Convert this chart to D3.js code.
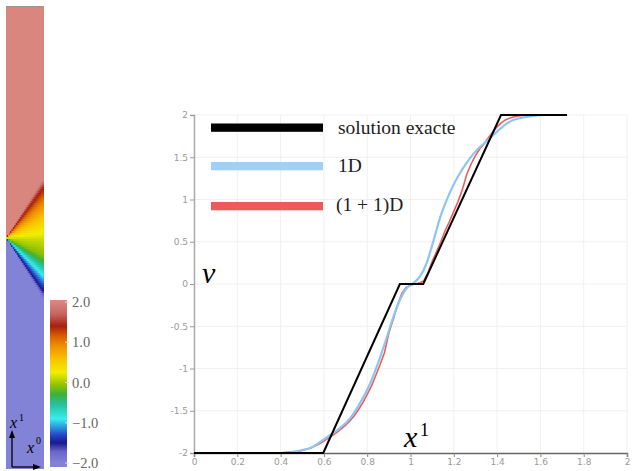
<!DOCTYPE html>
<html><head><meta charset="utf-8">
<script src="https://cdn.jsdelivr.net/npm/d3@7"></script>
<style>body{margin:0;background:#fff}svg{display:block}</style>
</head><body>
<svg id="c" width="632" height="471"></svg>
<script>
// ---------- data ----------
const xTickValues = [0,0.2,0.4,0.6,0.8,1,1.2,1.4,1.6,1.8,2];
const xTickLabels = ["0","0.2","0.4","0.6","0.8","1","1.2","1.4","1.6","1.8","2"];
const yTickValues = [2,1.5,1,0.5,0,-0.5,-1,-1.5,-2];
const yTickLabels = ["2","1.5","1","0.5","0","-0.5","-1","-1.5","-2"];

const exactX = [0, 0.597, 0.951, 1.059, 1.418, 1.723];
const exactV = [-2, -2, 0, 0, 2, 2];

const blueX = [0.40,0.45,0.50,0.55,0.582,0.628,0.674,0.721,0.767,0.813,0.851,0.887,0.921,0.951,0.982,1.013,1.044,1.075,1.098,1.118,1.136,1.165,1.198,1.235,1.275,1.312,1.352,1.398,1.44,1.475,1.52,1.566,1.62,1.723];
const blueV = [-2.00,-1.99,-1.965,-1.925,-1.87,-1.79,-1.705,-1.59,-1.41,-1.18,-0.93,-0.66,-0.39,-0.19,-0.05,0.01,0.09,0.25,0.44,0.62,0.78,0.98,1.17,1.34,1.49,1.60,1.69,1.80,1.89,1.94,1.97,1.99,2.00,2.00];

const redX = [0.40,0.42,0.44,0.46,0.48,0.50,0.52,0.54,0.56,0.58,0.60,0.62,0.64,0.66,0.68,0.70,0.72,0.74,0.76,0.78,0.80,0.82,0.84,0.86,0.88,0.90,0.92,0.94,0.96,0.98,1.00,1.02,1.04,1.06,1.08,1.10,1.12,1.14,1.16,1.18,1.20,1.22,1.24,1.26,1.28,1.30,1.32,1.34,1.36,1.38,1.40,1.42,1.44,1.46,1.48,1.50,1.54,1.723];
const redV = [-2.00,-1.995,-1.99,-1.985,-1.98,-1.97,-1.955,-1.94,-1.915,-1.89,-1.86,-1.825,-1.79,-1.755,-1.715,-1.67,-1.62,-1.56,-1.485,-1.405,-1.305,-1.205,-1.08,-0.95,-0.81,-0.58,-0.42,-0.25,-0.11,-0.04,-0.015,0.00,0.01,0.035,0.13,0.265,0.38,0.50,0.63,0.74,0.86,0.98,1.12,1.30,1.42,1.52,1.60,1.66,1.73,1.80,1.86,1.91,1.945,1.965,1.98,1.99,2.00,2.00];

const legendLabels = ["solution exacte","1D","(1 + 1)D"];

// pseudocolor field: profile at the last x0 column (offset of x1 from 1 -> value)
const heatOffset = [-0.264,-0.23,-0.173,-0.121,-0.078,-0.013,0.074,0.16,0.225,0.255];
const heatValue  = [-2,-1.5,-1.0,-0.5,-0.1,0.1,0.5,1.0,1.5,2];

const colorStopV = [-2.0,-1.72,-1.5,-1.3,-0.9,-0.55,-0.3,-0.05,0.25,0.6,0.9,1.15,1.4,1.7,2.0];
const colorStopC = ["#8282d6","#6a68c8","#1a1890","#2448c8","#38eef0","#28c0a0","#3cb03c","#94c400","#f2ee00","#f8c000","#f09000","#d86000","#a82010","#c46660","#d9867f"];

const cbTickValues = [2,1,0,-1,-2];
const cbTickLabels = ["2.0","1.0","0.0","\u22121.0","\u22122.0"];

// ---------- drawing ----------
const svg = d3.select("#c");
const color = d3.scaleLinear().domain(colorStopV).range(colorStopC).clamp(true);

// heatmap
const hx = d3.scaleLinear().domain([0,1]).range([6,43]);
const hy = d3.scaleLinear().domain([0,2]).range([468,6]);
const prof = d3.scaleLinear().domain(heatOffset).range(heatValue).clamp(true);
const nx = 37, ny = 231;
const cells = [];
for (let i=0;i<nx;i++){
  const x0 = (i+0.5)/nx;
  for (let j=0;j<ny;j++){
    const x1 = (j+0.5)/ny*2;
    cells.push({i,j,v:prof((x1-1)/x0)});
  }
}
svg.append("g").attr("shape-rendering","crispEdges").selectAll("rect").data(cells).join("rect")
  .attr("x",d=>hx(d.i/nx)).attr("width",hx(1/nx)-hx(0)+0.6)
  .attr("y",d=>hy((d.j+1)/ny*2)).attr("height",hy(0)-hy(2/ny)+0.6)
  .attr("fill",d=>color(d.v));
svg.append("line").attr("x1",6).attr("x2",43).attr("y1",6.5).attr("y2",6.5).attr("stroke","#a09090").attr("stroke-width",1);

// triad
const tri = svg.append("g").attr("stroke","#000").attr("stroke-width",1.3).attr("fill","none");
tri.append("line").attr("x1",12).attr("y1",467).attr("x2",12).attr("y2",434);
tri.append("line").attr("x1",12).attr("y1",467).attr("x2",37).attr("y2",467);
svg.append("path").attr("d","M12,430 L9,438 L15,438 Z").attr("fill","#000");
svg.append("path").attr("d","M41,467 L33,464 L33,470 Z").attr("fill","#000");
const triT = svg.append("g").attr("font-family","Liberation Serif").attr("font-style","italic").attr("fill","#000");
triT.append("text").attr("x",10).attr("y",428).attr("font-size",16).text("x");
triT.append("text").attr("x",19).attr("y",421).attr("font-size",10).attr("font-style","normal").text("1");
triT.append("text").attr("x",27).attr("y",453).attr("font-size",16).text("x");
triT.append("text").attr("x",36).attr("y",444).attr("font-size",10).attr("font-style","normal").text("0");

// colorbar
const cb = d3.scaleLinear().domain([-2,2]).range([463,302]);
const cbRows = d3.range(300,467);
svg.append("g").attr("shape-rendering","crispEdges").selectAll("rect").data(cbRows).join("rect")
  .attr("x",50).attr("width",17).attr("y",d=>d).attr("height",1.2)
  .attr("fill",d=>color(cb.invert(d+0.5)));
const cbg = svg.append("g");
cbg.selectAll("line").data(cbTickValues).join("line")
  .attr("x1",65).attr("x2",69).attr("y1",d=>cb(d)).attr("y2",d=>cb(d)).attr("stroke","#ddd");
cbg.selectAll("text").data(cbTickValues).join("text")
  .attr("x",72).attr("y",d=>cb(d)).attr("dy","0.35em")
  .attr("font-family","Liberation Serif").attr("font-size",14.5).attr("fill","#666")
  .text((d,i)=>cbTickLabels[i]);

// line plot
const x = d3.scaleLinear().domain([0,2]).range([194,627]);
const y = d3.scaleLinear().domain([-2,2]).range([453,115]);

const grid = svg.append("g").attr("stroke","#f0f0f0").attr("stroke-width",1);
grid.selectAll(".gx").data(xTickValues.slice(1)).join("line").attr("class","gx")
  .attr("x1",d=>x(d)).attr("x2",d=>x(d)).attr("y1",y(-2)).attr("y2",y(2));
grid.selectAll(".gy").data(yTickValues.slice(0,-1)).join("line").attr("class","gy")
  .attr("x1",x(0)).attr("x2",x(2)).attr("y1",d=>y(d)).attr("y2",d=>y(d));

const xAxis = d3.axisBottom(x).tickValues(xTickValues).tickFormat((d,i)=>xTickLabels[i]).tickSize(4).tickPadding(2);
const gxA = svg.append("g").attr("transform",`translate(0,${y(-2)})`).call(xAxis);
gxA.select(".domain").attr("stroke","#666").attr("stroke-width",1.5);
gxA.selectAll(".tick line").attr("stroke","#888");
gxA.selectAll("text").attr("fill","#999").attr("font-family","DejaVu Sans").attr("font-size",9);

const yAxis = d3.axisLeft(y).tickValues(yTickValues).tickFormat((d,i)=>yTickLabels[i]).tickSize(4).tickPadding(2);
const gyA = svg.append("g").attr("transform",`translate(${x(0)},0)`).call(yAxis);
gyA.select(".domain").attr("stroke","#aaa").attr("stroke-width",1.5);
gyA.selectAll(".tick line").attr("stroke","#999");
gyA.selectAll("text").attr("fill","#999").attr("font-family","DejaVu Sans").attr("font-size",9);

const redPts = redX.map((v,i)=>[v,redV[i]]);
const bluePts = blueX.map((v,i)=>[v,blueV[i]]);
const exactPts = exactX.map((v,i)=>[v,exactV[i]]);
svg.append("path").attr("d",d3.line().x(d=>x(d[0])).y(d=>y(d[1]))(redPts)).attr("fill","none").attr("stroke","#f05a5a").attr("stroke-width",1.6);
svg.append("path").attr("d",d3.line().x(d=>x(d[0])).y(d=>y(d[1])).curve(d3.curveMonotoneX)(bluePts)).attr("fill","none").attr("stroke","#8cc6f0").attr("stroke-width",2.2);
svg.append("path").attr("d",d3.line().x(d=>x(d[0])).y(d=>y(d[1]))(exactPts)).attr("fill","none").attr("stroke","#000").attr("stroke-width",2);

// legend
const legColors = ["#000","#9ed0f8","#ee5a5a"];
const legY = [127.5,166,206];
const legTextY = [134,172,211];
const lg = svg.append("g");
lg.selectAll("rect").data(legendLabels).join("rect")
  .attr("x",211).attr("width",112).attr("y",(d,i)=>legY[i]-4).attr("height",8.3)
  .attr("fill",(d,i)=>legColors[i]);
lg.selectAll("text").data(legendLabels).join("text")
  .attr("x",(d,i)=>i==2?336:338).attr("y",(d,i)=>legTextY[i])
  .attr("font-family","Liberation Serif").attr("font-size",19.5).attr("fill","#222")
  .text(d=>d);

// axis titles
svg.append("text").attr("x",202).attr("y",283).attr("font-family","Liberation Serif").attr("font-style","italic").attr("font-size",30).text("v");
svg.append("text").attr("x",404).attr("y",447).attr("font-family","Liberation Serif").attr("font-style","italic").attr("font-size",30).text("x");
svg.append("text").attr("x",420).attr("y",436).attr("font-family","Liberation Serif").attr("font-size",18).text("1");
</script>
</body></html>
